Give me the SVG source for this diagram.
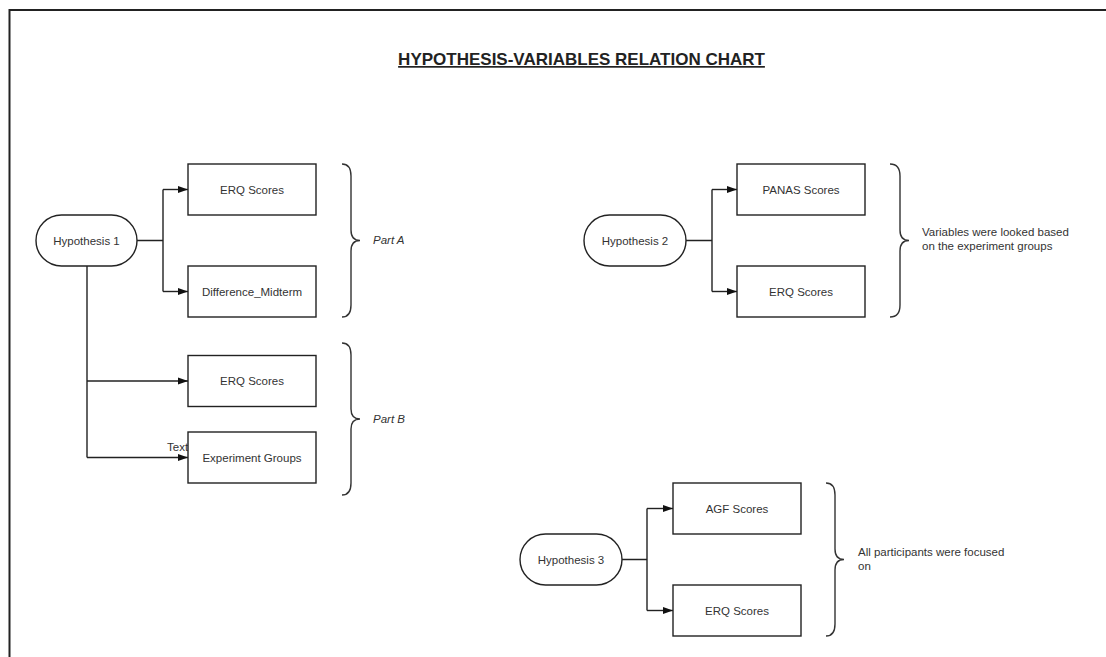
<svg xmlns="http://www.w3.org/2000/svg" width="1106" height="657" viewBox="0 0 1106 657">
<style>
.t{font-family:"Liberation Sans",Arial,sans-serif;font-size:11.5px;fill:#333;text-anchor:middle}
.l{font-family:"Liberation Sans",Arial,sans-serif;font-size:11.5px;fill:#333}
.i{font-style:italic}
.box{fill:#fff;stroke:#222;stroke-width:1.4}
.pill{fill:#fff;stroke:#222;stroke-width:1.4}
.c{fill:none;stroke:#222;stroke-width:1.4}
.br{fill:none;stroke:#333;stroke-width:1.4}
.title{font-family:"Liberation Sans",Arial,sans-serif;font-size:17px;font-weight:bold;fill:#222;text-anchor:middle;text-decoration:underline}
</style>
<defs>
<marker id="ah" markerWidth="10" markerHeight="8" refX="10" refY="4" orient="auto" markerUnits="userSpaceOnUse">
<path d="M0,0.5 L10,4 L0,7.5 Z" fill="#111"/>
</marker>
</defs>
<rect width="1106" height="657" fill="#fff"/>
<path d="M9.5,660 L9.5,10 L1110,10" fill="none" stroke="#222" stroke-width="2"/>
<text class="title" x="581.5" y="65">HYPOTHESIS-VARIABLES RELATION CHART</text>

<g id="connectors">
<path class="c" d="M137,240.5 H163 M163,189.5 V291.5"/>
<path class="c" d="M163,189.5 H188" marker-end="url(#ah)"/>
<path class="c" d="M163,291.5 H188" marker-end="url(#ah)"/>
<path class="c" d="M87,266 V457.5"/>
<path class="c" d="M87,381 H188" marker-end="url(#ah)"/>
<path class="c" d="M87,457.5 H188" marker-end="url(#ah)"/>
<path class="c" d="M686,240.5 H712 M712,189.5 V291.5"/>
<path class="c" d="M712,189.5 H737" marker-end="url(#ah)"/>
<path class="c" d="M712,291.5 H737" marker-end="url(#ah)"/>
<path class="c" d="M622,559.5 H647 M647,508.5 V610.5"/>
<path class="c" d="M647,508.5 H673" marker-end="url(#ah)"/>
<path class="c" d="M647,610.5 H673" marker-end="url(#ah)"/>
<text class="l" x="167" y="451">Text</text>
</g>

<g id="hyp1"><rect class="pill" x="36" y="215" width="101" height="51" rx="25.5"/><text class="t" x="86.5" y="244.5">Hypothesis 1</text></g>
<g id="erq1"><rect class="box" x="188" y="164" width="128" height="51"/><text class="t" x="252" y="193.5">ERQ Scores</text></g>
<g id="diff"><rect class="box" x="188" y="266" width="128" height="51"/><text class="t" x="252" y="295.5">Difference_Midterm</text></g>
<g id="erq2"><rect class="box" x="188" y="355.5" width="128" height="51"/><text class="t" x="252" y="385">ERQ Scores</text></g>
<g id="expgroups"><rect class="box" x="188" y="432" width="128" height="51"/><text class="t" x="252" y="461.5">Experiment Groups</text></g>

<g id="partA"><path class="br" d="M342,164 Q351,164 351,176 L351,230 Q351,240.5 360,240.5 Q351,240.5 351,251 L351,305 Q351,317 342,317"/><text class="l i" x="373" y="244">Part A</text></g>
<g id="partB"><path class="br" d="M342,343 Q351,343 351,355 L351,409 Q351,419 360,419 Q351,419 351,429 L351,483 Q351,495 342,495"/><text class="l i" x="373" y="423">Part B</text></g>

<g id="hyp2"><rect class="pill" x="584" y="215" width="102" height="51" rx="25.5"/><text class="t" x="635" y="244.5">Hypothesis 2</text></g>
<g id="panas"><rect class="box" x="737" y="164" width="128" height="51"/><text class="t" x="801" y="193.5">PANAS Scores</text></g>
<g id="erq3"><rect class="box" x="737" y="266" width="128" height="51"/><text class="t" x="801" y="295.5">ERQ Scores</text></g>
<g id="note2"><path class="br" d="M890,164 Q900,164 900,176 L900,230 Q900,240.5 909,240.5 Q900,240.5 900,251 L900,305 Q900,317 890,317"/><text class="l" x="922" y="236">Variables were looked based</text><text class="l" x="922" y="250">on the experiment groups</text></g>

<g id="hyp3"><rect class="pill" x="520" y="534" width="102" height="51" rx="25.5"/><text class="t" x="571" y="563.5">Hypothesis 3</text></g>
<g id="agf"><rect class="box" x="673" y="483" width="128" height="51"/><text class="t" x="737" y="512.5">AGF Scores</text></g>
<g id="erq4"><rect class="box" x="673" y="585" width="128" height="51"/><text class="t" x="737" y="614.5">ERQ Scores</text></g>
<g id="note3"><path class="br" d="M826,483 Q835,483 835,495 L835,549 Q835,559.5 844,559.5 Q835,559.5 835,570 L835,624 Q835,636 826,636"/><text class="l" x="858" y="556">All participants were focused</text><text class="l" x="858" y="570">on</text></g>
</svg>
